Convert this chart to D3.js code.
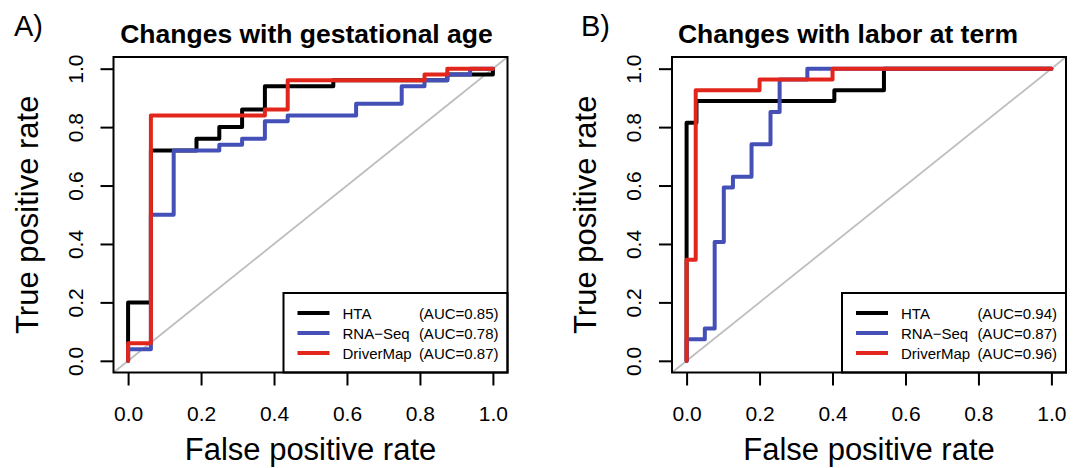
<!DOCTYPE html>
<html>
<head>
<meta charset="utf-8">
<script src="https://cdn.jsdelivr.net/npm/d3@7"></script>
<style>
  body { margin: 0; background: #fff; }
  text { font-family: "Liberation Sans", Arial, sans-serif; fill: #000; }
  .tick text { font-size: 21px; font-family: "Liberation Sans", Arial, sans-serif; }
  .tick line { stroke: #000; stroke-width: 2px; }
</style>
</head>
<body>
<svg id="chart" width="1079" height="468"></svg>
<script>
var ticks = [0, 0.2, 0.4, 0.6, 0.8, 1.0];
var seriesNames = ['HTA', 'RNA\u2212Seq', 'DriverMap'];
var seriesColors = ['#000000', '#4450b8', '#e3261c'];

// A) changes with gestational age
var gaTitle = 'Changes with gestational age';
var gaAuc = ['0.85', '0.78', '0.87'];
var gaHtaFpr = [0, 0, 0.0625, 0.0625, 0.1875, 0.1875, 0.25, 0.25, 0.3125, 0.3125, 0.375, 0.375, 0.5625, 0.5625, 0.875, 0.875, 1, 1];
var gaHtaTpr = [0, 0.2, 0.2, 0.72, 0.72, 0.76, 0.76, 0.80, 0.80, 0.86, 0.86, 0.94, 0.94, 0.96, 0.96, 0.98, 0.98, 1];
var gaRnaFpr = [0, 0, 0.0625, 0.0625, 0.125, 0.125, 0.25, 0.25, 0.3125, 0.3125, 0.375, 0.375, 0.4375, 0.4375, 0.625, 0.625, 0.75, 0.75, 0.8125, 0.8125, 0.875, 0.875, 0.9375, 0.9375, 1];
var gaRnaTpr = [0, 0.04, 0.04, 0.5, 0.5, 0.72, 0.72, 0.74, 0.74, 0.76, 0.76, 0.82, 0.82, 0.84, 0.84, 0.88, 0.88, 0.94, 0.94, 0.96, 0.96, 0.98, 0.98, 1, 1];
var gaDmFpr = [0, 0, 0.0625, 0.0625, 0.375, 0.375, 0.4375, 0.4375, 0.8125, 0.8125, 0.875, 0.875, 1];
var gaDmTpr = [0, 0.06, 0.06, 0.84, 0.84, 0.86, 0.86, 0.96, 0.96, 0.98, 0.98, 1, 1];

// B) changes with labor at term
var ltTitle = 'Changes with labor at term';
var ltAuc = ['0.94', '0.87', '0.96'];
var ltHtaFpr = [0, 0, 0.027, 0.027, 0.405, 0.405, 0.541, 0.541, 1];
var ltHtaTpr = [0, 0.815, 0.815, 0.889, 0.889, 0.926, 0.926, 1, 1];
var ltRnaFpr = [0, 0, 0.05, 0.05, 0.077, 0.077, 0.102, 0.102, 0.127, 0.127, 0.178, 0.178, 0.23, 0.23, 0.255, 0.255, 0.331, 0.331, 1];
var ltRnaTpr = [0, 0.074, 0.074, 0.111, 0.111, 0.407, 0.407, 0.593, 0.593, 0.63, 0.63, 0.741, 0.741, 0.852, 0.852, 0.963, 0.963, 1, 1];
var ltDmFpr = [0, 0, 0.025, 0.025, 0.2, 0.2, 0.4, 0.4, 1];
var ltDmTpr = [0, 0.346, 0.346, 0.926, 0.926, 0.963, 0.963, 1, 1];

var panels = [
  { tag: 'A)', tagX: 14, title: gaTitle, titleX: 306.5, left: 113.5, auc: gaAuc,
    fpr: [gaHtaFpr, gaRnaFpr, gaDmFpr], tpr: [gaHtaTpr, gaRnaTpr, gaDmTpr] },
  { tag: 'B)', tagX: 581, title: ltTitle, titleX: 848, left: 672, auc: ltAuc,
    fpr: [ltHtaFpr, ltRnaFpr, ltDmFpr], tpr: [ltHtaTpr, ltRnaTpr, ltDmTpr] }
];

var svg = d3.select('#chart');
svg.append('rect').attr('width', 1079).attr('height', 468).attr('fill', '#fff');

var boxW = 394, boxTop = 57, boxBottom = 372.5;

function drawPanel(p) {
  var g = svg.append('g');
  var right = p.left + boxW;
  // R pads the data range by 4% on each side
  var x = d3.scaleLinear().domain([-0.04, 1.04]).range([p.left, right]);
  var y = d3.scaleLinear().domain([-0.04, 1.04]).range([boxBottom, boxTop]);

  // chance line
  g.append('line')
    .attr('x1', x(-0.04)).attr('y1', y(-0.04))
    .attr('x2', x(1.04)).attr('y2', y(1.04))
    .attr('stroke', '#bebebe').attr('stroke-width', 1.8);

  var line = d3.line().x(function(d) { return x(d[0]); }).y(function(d) { return y(d[1]); });
  p.fpr.forEach(function(f, i) {
    g.append('path')
      .attr('d', line(d3.zip(f, p.tpr[i])))
      .attr('fill', 'none')
      .attr('stroke', seriesColors[i])
      .attr('stroke-width', 4)
      .attr('stroke-linejoin', 'round')
      .attr('stroke-linecap', 'round');
  });

  g.append('g')
    .attr('transform', 'translate(0,' + boxBottom + ')')
    .call(d3.axisBottom(x).tickValues(ticks).tickFormat(d3.format('.1f')).tickSize(13).tickPadding(21))
    .call(function(a) { a.select('.domain').remove(); });

  g.append('g')
    .attr('transform', 'translate(' + p.left + ',0)')
    .call(d3.axisLeft(y).tickValues(ticks).tickFormat(d3.format('.1f')).tickSize(13))
    .call(function(a) { a.select('.domain').remove(); })
    .selectAll('.tick text')
      .attr('x', 0).attr('y', -31).attr('dy', 0)
      .attr('text-anchor', 'middle')
      .attr('transform', 'rotate(-90)');

  // legend
  var lx = p.left + 170;
  g.append('rect')
    .attr('x', lx).attr('y', 293)
    .attr('width', right - lx).attr('height', boxBottom - 293)
    .attr('fill', '#fff').attr('stroke', '#000').attr('stroke-width', 2);
  seriesNames.forEach(function(name, i) {
    var ry = 313 + i * 20;
    g.append('line')
      .attr('x1', lx + 14).attr('x2', lx + 46)
      .attr('y1', ry).attr('y2', ry)
      .attr('stroke', seriesColors[i]).attr('stroke-width', 4);
    g.append('text')
      .attr('x', lx + 59).attr('y', ry + 5.5)
      .attr('font-size', '15px')
      .text(name);
    g.append('text')
      .attr('x', right - 9).attr('y', ry + 5.5)
      .attr('font-size', '15px')
      .attr('text-anchor', 'end')
      .text('(AUC=' + p.auc[i] + ')');
  });

  // frame
  g.append('rect')
    .attr('x', p.left).attr('y', boxTop)
    .attr('width', boxW).attr('height', boxBottom - boxTop)
    .attr('fill', 'none').attr('stroke', '#000').attr('stroke-width', 2);

  g.append('text')
    .attr('x', p.titleX).attr('y', 43)
    .attr('text-anchor', 'middle')
    .attr('font-size', '26.5px').attr('font-weight', 'bold')
    .text(p.title);

  g.append('text')
    .attr('x', p.tagX).attr('y', 36)
    .attr('font-size', '29px')
    .text(p.tag);

  g.append('text')
    .attr('x', p.left + boxW / 2).attr('y', 460)
    .attr('text-anchor', 'middle')
    .attr('font-size', '31px')
    .text('False positive rate');

  g.append('text')
    .attr('transform', 'translate(' + (p.left - 76) + ',' + ((boxTop + boxBottom) / 2) + ') rotate(-90)')
    .attr('text-anchor', 'middle')
    .attr('font-size', '31px')
    .text('True positive rate');
}

panels.forEach(drawPanel);
</script>
</body>
</html>
